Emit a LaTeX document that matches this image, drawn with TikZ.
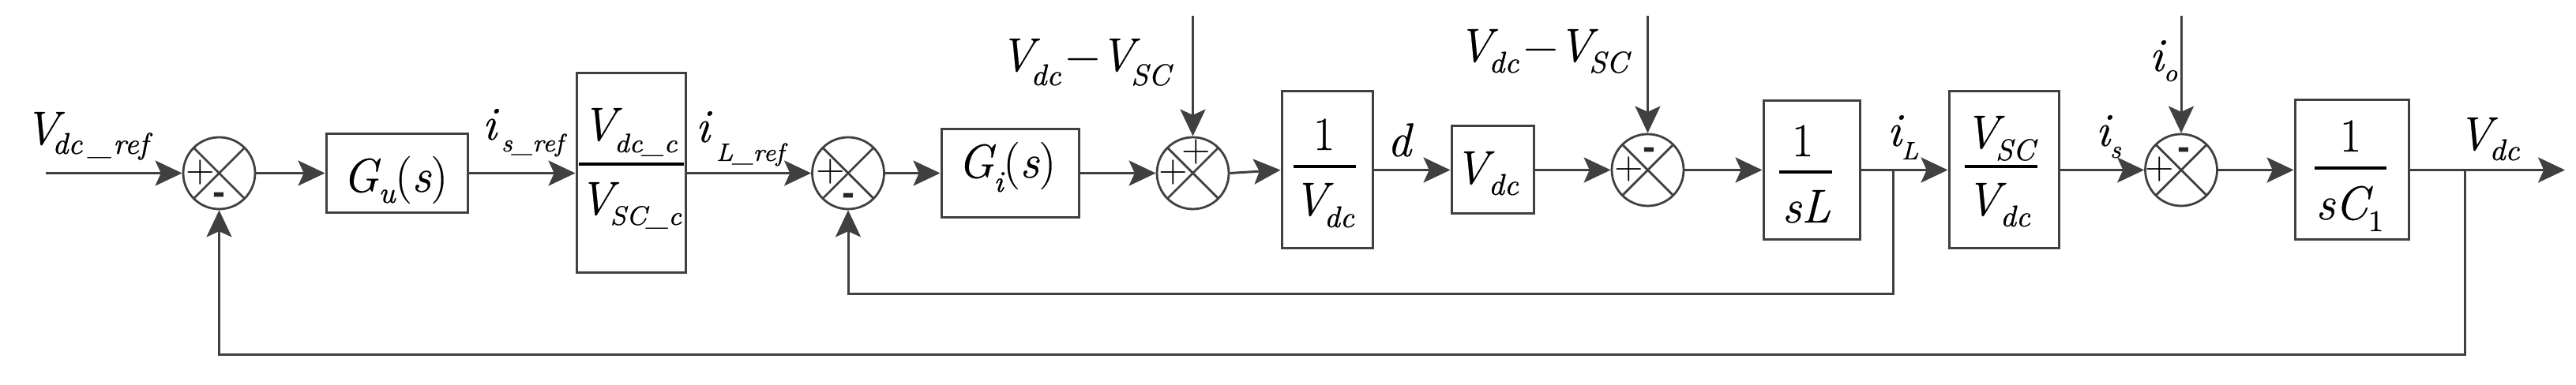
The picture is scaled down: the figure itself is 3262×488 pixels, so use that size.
\documentclass[tikz,border=0pt]{standalone}
\usepackage{fontspec}
\setmainfont{Latin Modern Roman}[UprightFeatures={FakeBold=0.4},ItalicFeatures={FakeBold=0.5}]
\newfontfamily\lmthin{Latin Modern Roman}
\newfontfamily\ars{Liberation Sans}
\usetikzlibrary{arrows.meta}
\definecolor{lc}{HTML}{404040}
\newcommand\sbV[2]{\raisebox{-#1pt}{\fontsize{9.5}{10}\selectfont #2}}
\newcommand\sbW[2]{\raisebox{-#1pt}{\fontsize{8.5}{9}\selectfont #2}}
\newcommand\sbI[2]{\raisebox{-#1pt}{\fontsize{8}{9}\selectfont #2}}
\tikzset{
  ln/.style={draw=lc, line width=0.75pt},
  arr/.style={ln, -{Stealth[length=8.5pt,width=8pt,inset=1.8pt]}},
  blk/.style 2 args={draw=lc, line width=0.75pt, rectangle, inner sep=0pt, minimum width=#1*0.25pt, minimum height=#2*0.25pt},
  sumc/.style={circle, draw=lc, line width=0.7pt, inner sep=0pt, minimum size=22.75pt,
    path picture={\draw[lc, line width=0.7pt] (path picture bounding box.north west) -- (path picture bounding box.south east)
      (path picture bounding box.north east) -- (path picture bounding box.south west);}},
  lab/.style={inner sep=0pt, text=black, font=\rmfamily\fontsize{15}{18}\selectfont\itshape},
  pls/.style={inner sep=0pt, text=black, font=\lmthin\fontsize{12}{12}\selectfont\upshape, anchor=base},
  mns/.style={inner sep=0pt, text=black!85, font=\ars\fontsize{12}{12}\selectfont\bfseries, anchor=base},
  fbar/.style={draw=black, line width=1pt},
}
\begin{document}
\begin{tikzpicture}[x=0.25pt,y=-0.25pt]
\useasboundingbox (0,0) rectangle (3262,488);
% blocks and summing junctions
\node[sumc] (sum1) at (277.5,219.5) {};
\node[blk={179}{100}] (gu) at (502.5,219.5) {};
\node[blk={138}{253}] (vcc) at (799,219.5) {};
\node[sumc] (sum2) at (1074,219.5) {};
\node[blk={174}{112}] (gi) at (1279,219.5) {};
\node[sumc] (sum3) at (1510.5,219.5) {};
\node[blk={115}{199}] (v1) at (1680.5,215.5) {};
\node[blk={104}{111}] (vdcb) at (1890,215.5) {};
\node[sumc] (sum4) at (2086.5,215.5) {};
\node[blk={122}{176}] (sl) at (2294,215.5) {};
\node[blk={139}{199}] (vsc) at (2537.5,215.5) {};
\node[sumc] (sum5) at (2762,215.5) {};
\node[blk={144}{177}] (sc1) at (2978,215.5) {};
% free ends and bends
\coordinate (vin) at (58,219.5);
\coordinate (vout) at (3248,215.5);
\coordinate (top3) at (1510.5,20);
\coordinate (top4) at (2086.5,20);
\coordinate (top5) at (2762,20);
\coordinate (tapL) at (2397,215.5);
\coordinate (tapV) at (3121,215.5);
\coordinate (fbL) at (1074,373);
\coordinate (fbV) at (277.5,450);
% signs
\node[pls] (s1p) at ([shift={(-24,11)}]sum1.center) {+};
\node[mns] (s1m) at ([shift={(0,40)}]sum1.center) {-};
\node[pls] (s2p) at ([shift={(-22,10)}]sum2.center) {+};
\node[mns] (s2m) at ([shift={(0,41)}]sum2.center) {-};
\node[pls] (s3p) at ([shift={(-24.5,11)}]sum3.center) {+};
\node[pls] (s3t) at ([shift={(4,-15)}]sum3.center) {+};
\node[pls] (s4p) at ([shift={(-23.5,11)}]sum4.center) {+};
\node[mns] (s4m) at ([shift={(1.5,-12.5)}]sum4.center) {-};
\node[pls] (s5p) at ([shift={(-27,11)}]sum5.center) {+};
\node[mns] (s5m) at ([shift={(3,-13)}]sum5.center) {-};
% texts
\node[lab, anchor=base west] (lvref) at (30,183) {V\kern-2pt\sbV{3}{dc\hspace{2pt}\_\hspace{0.5pt}ref}};
\node[lab, anchor=base] (lgu) at (500.5,243) {G\sbV{3.5}{u}{\upshape(}s{\upshape)}};
\node[lab, anchor=base west] (lisref) at (610,177) {i\hspace{1.5pt}\sbI{3.75}{s\_ref}};
\node[lab, anchor=base] (lvccn) at (797,178) {V\kern-0.5pt\sbW{3.75}{dc\_c}};
\node[lab, anchor=base] (lvccd) at (798,272) {V\kern-1pt\sbW{3.25}{SC\_c}};
\draw[fbar] (733,208) -- (866,208);
\node[lab, anchor=base west] (lilref) at (880,180) {i\hspace{2pt}\sbI{6}{L\_ref}};
\node[lab, anchor=base] (lgi) at (1275,225) {G\sbV{4.5}{i}{\upshape(}s{\upshape)}};
\node[lab, anchor=base west] (lvv1) at (1265,90) {V\kern-1pt\sbV{4.5}{dc}\kern1.5pt{\upshape −}V\kern-1pt\sbV{4.5}{SC}};
\node[lab, anchor=base west] (lvv2) at (1845,78) {V\kern-1pt\sbV{3.5}{dc}\kern1.5pt{\upshape −}V\kern-1pt\sbV{3.5}{SC}};
\node[lab, anchor=base] (l1a) at (1676.5,190) {\upshape 1};
\draw[fbar] (1638,211) -- (1717,211);
\node[lab, anchor=base] (lvd1) at (1676,273) {V\kern-1pt\sbV{3.75}{dc}};
\node[lab, anchor=base west] (ld) at (1756,198) {d};
\node[lab, anchor=base] (lvdb) at (1882,233) {V\sbV{3.5}{dc}};
\node[lab, anchor=base] (l1b) at (2282.5,198) {\upshape 1};
\draw[fbar] (2253,218) -- (2320,218);
\node[lab, anchor=base] (lsl) at (2287.5,282) {sL};
\node[lab, anchor=base west] (lil) at (2389,185) {i\sbI{4.25}{L}};
\node[lab, anchor=base] (lvscn) at (2532,188) {V\kern-1pt\sbV{3.75}{SC}};
\draw[fbar] (2488,211) -- (2580,211);
\node[lab, anchor=base] (lvscd) at (2530,273) {V\sbV{3.5}{dc}};
\node[lab, anchor=base west] (lis) at (2653,185) {i\sbI{3.75}{s}};
\node[lab, anchor=base west] (lio) at (2721,90) {i\sbI{3.25}{o}};
\node[lab, anchor=base] (l1c) at (2976.5,192) {\upshape 1};
\draw[fbar] (2931,213) -- (3022,213);
\node[lab, anchor=base] (lsc) at (2975.5,278) {sC\sbV{3.75}{\upshape 1}};
\node[lab, anchor=base west] (lvo) at (3111,190) {V\kern-0.75pt\sbV{3.25}{dc}};
% connectors
\draw[arr] (vin) -- (sum1.west);
\draw[arr] (sum1.east) -- (gu.west);
\draw[arr] (gu.east) -- (vcc.west);
\draw[arr] (vcc.east) -- (sum2.west);
\draw[arr] (sum2.east) -- (gi.west);
\draw[arr] (gi.east) -- (sum3.west);
\draw[arr] (sum3.east) -- (v1.west);
\draw[arr] (v1.east) -- (vdcb.west);
\draw[arr] (vdcb.east) -- (sum4.west);
\draw[arr] (sum4.east) -- (sl.west);
\draw[arr] (sl.east) -- (vsc.west);
\draw[arr] (vsc.east) -- (sum5.west);
\draw[arr] (sum5.east) -- (sc1.west);
\draw[arr] (sc1.east) -- (vout);
\draw[arr] (top3) -- (sum3.north);
\draw[arr] (top4) -- (sum4.north);
\draw[arr] (top5) -- (sum5.north);
\draw[arr] (tapL) |- (fbL) -- (sum2.south);
\draw[arr] (tapV) |- (fbV) -- (sum1.south);
\end{tikzpicture}
\end{document}
